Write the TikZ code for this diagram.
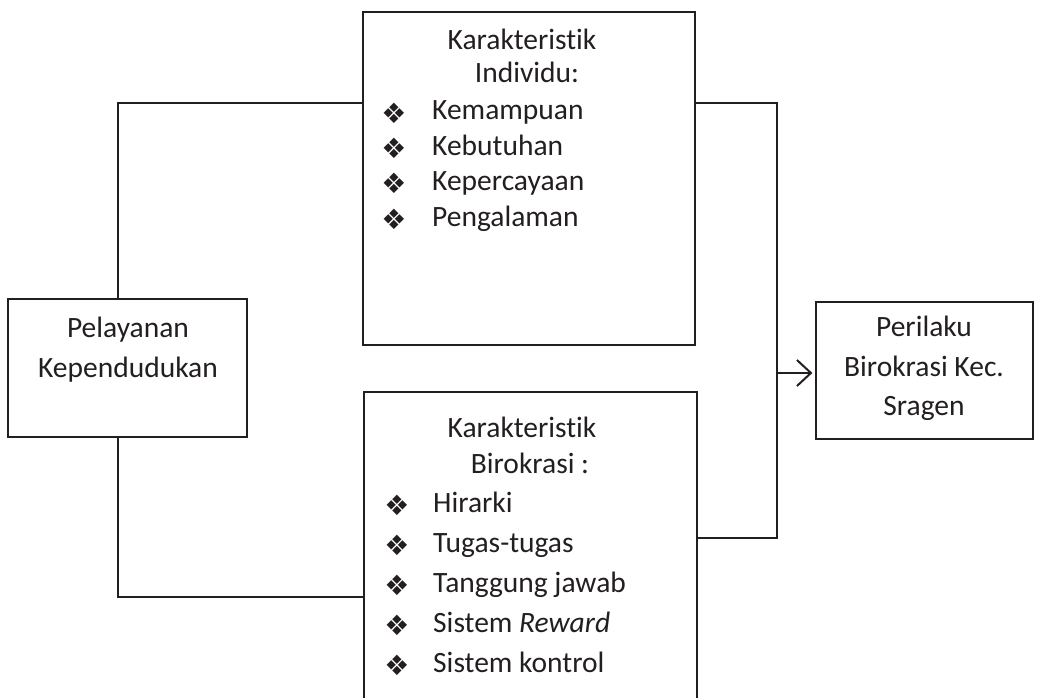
\documentclass[tikz,border=0pt]{standalone}
\usepackage{fontspec}
\setmainfont[Ligatures=NoCommon]{Carlito}
\newfontfamily\symfont{DejaVu Sans}
\usetikzlibrary{arrows.meta}
\definecolor{ink}{HTML}{231F20}
\begin{document}
\begin{tikzpicture}[x=1pt,y=-1pt,
  box/.style={draw=ink,line width=1.2pt,rectangle,inner sep=0pt},
  txt/.style={text=ink,font=\fontsize{29.5}{34}\selectfont,inner sep=0pt,text height=20pt,text depth=6pt},
  bul/.style={text=ink,font=\symfont\fontsize{28}{30}\selectfont,inner sep=0pt},
  conn/.style={draw=ink,line width=1.2pt}]
\useasboundingbox (0,0) rectangle (1043,698);
\clip (0,0) rectangle (1043,698);
\fill[white] (0,0) rectangle (1043,698);
% boxes
\node[box,minimum width=332pt,minimum height=333pt] (ind) at (529,178.5) {};
\node[box,minimum width=333pt,minimum height=330pt] (bir) at (530.5,557) {};
\node[box,minimum width=239pt,minimum height=138pt] (pel) at (127.5,368) {};
\node[box,minimum width=217pt,minimum height=137pt] (per) at (924.5,370.5) {};
% texts top box
\node[txt] (t1) at (522,43) {Karakteristik};
\node[txt] (t2) at (527,76) {Individu:};
\foreach \y/\s [count=\i] in {113/Kemampuan,148/Kebutuhan,183/Kepercayaan,219/Pengalaman}{
  \node[bul] (ib\i) at (394,\y) {❖};
  \node[txt,anchor=west] (it\i) at (432,\y) {\s};
}
% texts bottom box
\node[txt] (b1) at (522,430) {Karakteristik};
\node[txt] (b2) at (530,466) {Birokrasi :};
\foreach \y/\s [count=\i] in {505/Hirarki,545/Tugas-tugas,585/Tanggung jawab,625/Sistem \textit{Reward},665/Sistem kontrol}{
  \node[bul] (bb\i) at (397,\y) {❖};
  \node[txt,anchor=west] (bt\i) at (433,\y) {\s};
}
% left box text
\node[txt] (p1) at (128,330) {Pelayanan};
\node[txt] (p2) at (128,370) {Kependudukan};
% right box text
\node[txt] (r1) at (924,329) {Perilaku};
\node[txt] (r2) at (924,369) {Birokrasi Kec.};
\node[txt] (r3) at (924,408) {Sragen};
% connectors
\coordinate (jt) at (777,103);
\coordinate (jb) at (777,538);
\coordinate (ja) at (777,373);
\draw[conn] (pel.north -| 118,0) |- (ind.west |- jt);
\draw[conn] (pel.south -| 118,0) |- (bir.west |- 0,597);
\draw[conn] (ind.east |- jt) -- (jt) -- (jb) -- (bir.east |- jb);
\draw[conn,line width=1.5pt,-{Straight Barb[length=14pt,width=26pt,line width=2pt]},shorten >=3pt] (ja) -- (per.west |- ja);
\end{tikzpicture}
\end{document}
